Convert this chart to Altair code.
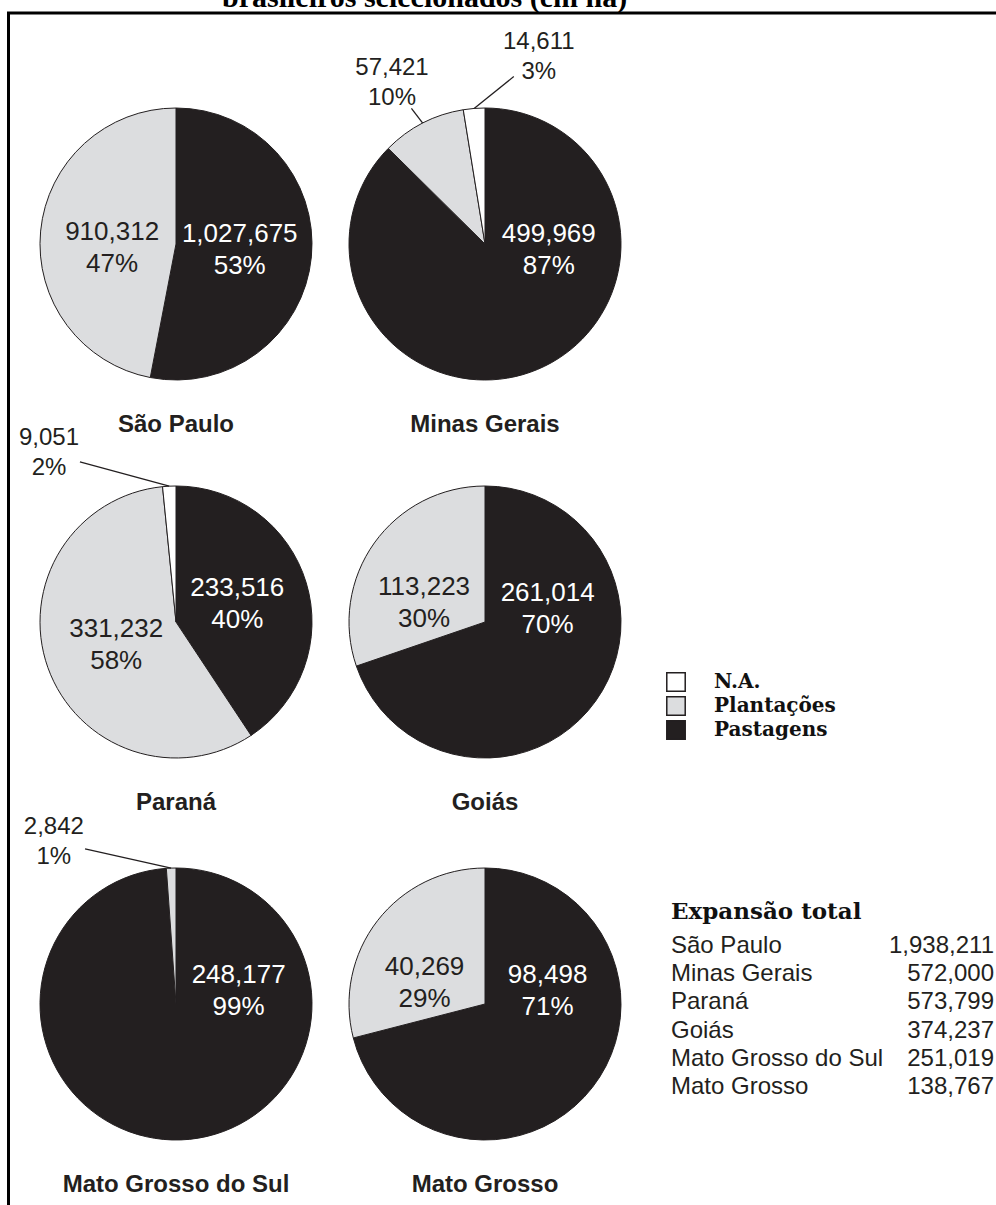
import math
import altair as alt
import pandas as pd

# ---------------- data ----------------
states = ["São Paulo", "Minas Gerais", "Paraná", "Goiás", "Mato Grosso do Sul", "Mato Grosso"]
categories = ["Pastagens", "Plantações", "N.A."]          # clockwise from 12 o'clock
pastagens = [1027675, 499969, 233516, 261014, 248177, 98498]
plantacoes = [910312, 57421, 331232, 113223, 2842, 40269]
na_values = [0, 14611, 9051, 0, 0, 0]
pct_pastagens = ["53%", "87%", "40%", "70%", "99%", "71%"]
pct_plantacoes = ["47%", "10%", "58%", "30%", "1%", "29%"]
pct_na = ["", "3%", "2%", "", "", ""]
totals = [1938211, 572000, 573799, 374237, 251019, 138767]
legend_order = ["N.A.", "Plantações", "Pastagens"]
legend_colors = ["#ffffff", "#dcdddf", "#231f20"]
title_text = "brasileiros selecionados (em ha)"
table_title = "Expansão total"

# ---------------- layout / style ----------------
W, H = 996, 1205
COL_X = [176, 485]
ROW_Y = [244, 622, 1004]
R = 136
DARK = "#231f20"
SANS = "Liberation Sans, Arial, Helvetica, sans-serif"
SERIF = "DejaVu Serif, Liberation Serif, serif"
TITLE_SERIF = "Liberation Serif, Times New Roman, serif"
# hand-placed callouts for thin slices: (angle in degrees clockwise from top, distance)
CALLOUTS = {
    ("Minas Gerais", "Plantações"): (330, 186),
    ("Minas Gerais", "N.A."): (16, 195),
    ("Paraná", "N.A."): (323, 211),
    ("Mato Grosso do Sul", "Plantações"): (323, 203),
}
# hand-placed inside label angle (degrees) where the default rule does not fit
INSIDE_DEG = {("Minas Gerais", "Pastagens"): 95}

rows = []
for i, s in enumerate(states):
    vals = [pastagens[i], plantacoes[i], na_values[i]]
    pcts = [pct_pastagens[i], pct_plantacoes[i], pct_na[i]]
    tot = sum(vals)
    cum = 0
    for k, cat in enumerate(categories):
        v = vals[k]
        if v == 0:
            continue
        t0 = cum / tot
        cum += v
        t1 = cum / tot
        rows.append(dict(state=s, category=cat, order=k, value=v,
                         value_label=f"{v:,}", pct=pcts[k], t0=t0, t1=t1,
                         cx=COL_X[i % 2], cy=ROW_Y[i // 2]))
slices = pd.DataFrame(rows)
slices["mid"] = (slices.t0 + slices.t1) / 2
slices["frac"] = slices.t1 - slices.t0


def label_angle(state, cat, mid):
    if (state, cat) in INSIDE_DEG:
        return INSIDE_DEG[(state, cat)] / 360
    # dark slices: keep the label right of the centre; light slices: pull toward 9 o'clock
    if cat == "Pastagens":
        return mid if mid <= 0.27 else 0.217
    return 0.75 + (mid - 0.75) * 0.7 - 0.02


inside = slices[slices.frac >= 0.15].copy()
inside["lab"] = [label_angle(s, c, m) for s, c, m in zip(inside.state, inside.category, inside.mid)]
inside["tcolor"] = ["#ffffff" if c == "Pastagens" else DARK for c in inside.category]

out_rows = []
for _, r in slices.iterrows():
    key = (r.state, r.category)
    if key not in CALLOUTS:
        continue
    deg, dist = CALLOUTS[key]
    a = math.radians(deg)
    lx = r.cx + dist * math.sin(a)
    ly = r.cy - dist * math.cos(a)
    m = 2 * math.pi * r.mid
    sx = r.cx + R * math.sin(m)
    sy = r.cy - R * math.cos(m)
    d = math.hypot(lx - sx, ly - sy)
    f = max(0.0, 1 - 32 / d)
    out_rows.append(dict(state=r.state, value_label=r.value_label, pct=r.pct,
                         lx=lx, ly=ly, sx=sx, sy=sy,
                         ex=sx + (lx - sx) * f, ey=sy + (ly - sy) * f))
callouts = pd.DataFrame(out_rows)

names = pd.DataFrame({"state": states,
                      "x": [COL_X[i % 2] for i in range(len(states))],
                      "y": [ROW_Y[i // 2] + 181 for i in range(len(states))]})

table = pd.DataFrame({"state": states,
                      "total": [f"{t:,}" for t in totals],
                      "y": [946 + 28.2 * i for i in range(len(states))]})

xs = alt.Scale(domain=[0, W], range=[0, W], zero=False, nice=False)
ys = alt.Scale(domain=[0, H], range=[0, H], zero=False, nice=False)
ts = alt.Scale(domain=[0, 1], range=[0, 2 * math.pi])

X = lambda f: alt.X(f, type="quantitative", scale=xs, axis=None)
Y = lambda f: alt.Y(f, type="quantitative", scale=ys, axis=None)

pies = alt.Chart(slices).mark_arc(outerRadius=R, stroke=DARK, strokeWidth=1).encode(
    x=X("cx"), y=Y("cy"),
    theta=alt.Theta("t0:Q", scale=ts), theta2="t1:Q",
    color=alt.Color("category:N",
                    scale=alt.Scale(domain=legend_order, range=legend_colors),
                    legend=alt.Legend(orient="none", legendX=666, legendY=672, title=None,
                                      symbolType="square", symbolSize=340,
                                      symbolStrokeColor=DARK, symbolStrokeWidth=1.5,
                                      labelFont=SERIF, labelFontSize=20, labelFontWeight="bold",
                                      labelColor="#111111", labelOffset=28, rowPadding=-2,
                                      padding=0)),
)

in_val = alt.Chart(inside).mark_text(radius=64, dy=-16, font=SANS, fontSize=26,
                                     align="center", baseline="middle").encode(
    x=X("cx"), y=Y("cy"), theta=alt.Theta("lab:Q", scale=ts),
    text="value_label:N", color=alt.Color("tcolor:N", scale=None))
in_pct = alt.Chart(inside).mark_text(radius=64, dy=16, font=SANS, fontSize=26,
                                     align="center", baseline="middle").encode(
    x=X("cx"), y=Y("cy"), theta=alt.Theta("lab:Q", scale=ts),
    text="pct:N", color=alt.Color("tcolor:N", scale=None))

out_val = alt.Chart(callouts).mark_text(dy=-15, font=SANS, fontSize=24, color=DARK,
                                        align="center", baseline="middle").encode(
    x=X("lx"), y=Y("ly"), text="value_label:N")
out_pct = alt.Chart(callouts).mark_text(dy=15, font=SANS, fontSize=24, color=DARK,
                                        align="center", baseline="middle").encode(
    x=X("lx"), y=Y("ly"), text="pct:N")
leaders = alt.Chart(callouts).mark_rule(color=DARK, strokeWidth=1.3).encode(
    x=X("sx"), y=Y("sy"), x2="ex", y2="ey")

state_names = alt.Chart(names).mark_text(font=SANS, fontSize=24, fontWeight="bold",
                                         color=DARK, align="center", baseline="middle").encode(
    x=X("x"), y=Y("y"), text="state:N")

tbl_title = alt.Chart(pd.DataFrame({"t": [table_title]})).mark_text(
    font=SERIF, fontSize=23, fontWeight="bold", color="#111111",
    align="left", baseline="middle").encode(x=alt.value(671), y=alt.value(912), text="t:N")
tbl_names = alt.Chart(table).mark_text(font=SANS, fontSize=24, color=DARK,
                                       align="left", baseline="middle").encode(
    x=alt.value(671), y=Y("y"), text="state:N")
tbl_vals = alt.Chart(table).mark_text(font=SANS, fontSize=24, color=DARK,
                                      align="right", baseline="middle").encode(
    x=alt.value(994), y=Y("y"), text="total:N")

title = alt.Chart(pd.DataFrame({"t": [title_text]})).mark_text(
    font=TITLE_SERIF, fontSize=30, fontWeight="bold", color="#000000",
    align="left", baseline="alphabetic").encode(x=alt.value(222), y=alt.value(7), text="t:N")

one = pd.DataFrame({"k": [0]})
frame_v = alt.Chart(one).mark_rule(color="#000000", strokeWidth=3).encode(
    x=alt.value(8.5), y=alt.value(12), y2=alt.value(H))
frame_h = alt.Chart(one).mark_rule(color="#000000", strokeWidth=3).encode(
    x=alt.value(7), x2=alt.value(W), y=alt.value(13))

chart = alt.layer(
    pies, leaders, in_val, in_pct, out_val, out_pct, state_names,
    tbl_title, tbl_names, tbl_vals, title, frame_v, frame_h,
).properties(
    width=W, height=H,
    autosize=alt.AutoSizeParams(type="none"),
    padding={"left": 0, "top": 0, "right": 0, "bottom": 0},
).configure_view(stroke=None)

chart.save("out.html", embed_options={"renderer": "svg", "actions": False})
